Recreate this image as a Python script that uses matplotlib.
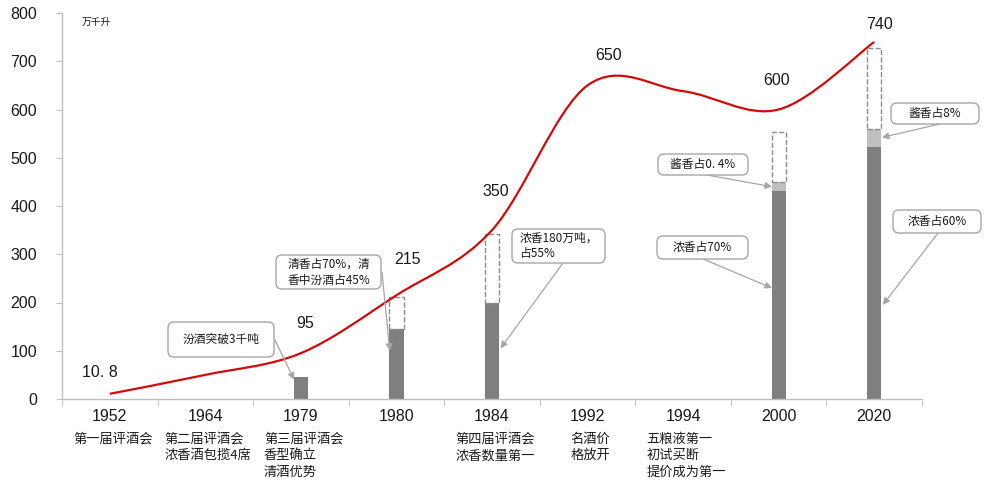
import numpy as np
import matplotlib
matplotlib.use('Agg')
import matplotlib.pyplot as plt
import matplotlib.transforms as mtransforms
from matplotlib.path import Path
from matplotlib.patches import PathPatch, FancyBboxPatch

plt.rcParams['font.family'] = ['Liberation Sans', 'Noto Sans CJK SC', 'DejaVu Sans']

# ---- data ----
years = ['1952', '1964', '1979', '1980', '1984', '1992', '1994', '2000', '2020']
events = ['第一届评酒会', '第二届评酒会\n浓香酒包揽4席', '第三届评酒会\n香型确立\n清酒优势', '',
          '第四届评酒会\n浓香数量第一', '名酒价\n格放开', '五粮液第一\n初试买断\n提价成为第一', '', '']
output = [10.8, 50, 95, 215, 350, 650, 638, 600, 740]
value_labels = ['10. 8', '', '95', '215', '350', '650', '', '600', '740']

bar_years = ['1979', '1980', '1984', '2000', '2020']
main_part = [45, 145, 200, 431, 522]
sauce_part = [0, 0, 0, 19, 37]
bar_total = [np.nan, 211, 342, 553, 727]

notes = ['汾酒突破3千吨', '清香占70%，清\n香中汾酒占45%', '浓香180万吨，\n占55%',
         '酱香占0. 4%', '浓香占70%', '酱香占8%', '浓香占60%']

W, H = 986, 482
fig = plt.figure(figsize=(W / 100, H / 100), dpi=100)
ax = fig.add_axes([62 / W, 1 - 399 / H, 860 / W, 386 / H])

x = np.arange(len(years))

# smoothed line (bezier through the points, like excel's smooth line)
pts = np.column_stack([x, output]).astype(float)
n = len(pts)
verts = [pts[0]]
codes = [Path.MOVETO]
for i in range(n - 1):
    p0 = pts[max(i - 1, 0)]
    p1 = pts[i]
    p2 = pts[i + 1]
    p3 = pts[min(i + 2, n - 1)]
    verts += [p1 + (p2 - p0) / 6, p2 - (p3 - p1) / 6, p2]
    codes += [Path.CURVE4] * 3
ax.add_patch(PathPatch(Path(verts, codes), fill=False, edgecolor='#d10a0a', lw=1.6, zorder=3))

# value labels
label_off = {'10. 8': (-10, 21), '95': (4, 30), '215': (11, 36), '350': (4, 39),
             '650': (21, 30), '600': (-2, 29), '740': (5, 17)}
for i, lab in enumerate(value_labels):
    if lab:
        ax.annotate(lab, (x[i], output[i]), xytext=label_off[lab], textcoords='offset pixels',
                    ha='center', va='center', fontsize=11.5, color='#1a1a1a')

# bars
bx = np.array([years.index(y) for y in bar_years])
main_part = np.array(main_part, float)
sauce_part = np.array(sauce_part, float)
bar_total = np.array(bar_total, float)
bw = 0.15
ax.bar(bx, main_part, width=bw, color='#7f7f7f', zorder=2)
ax.bar(bx, sauce_part, bottom=main_part, width=bw, color='#bfbfbf', zorder=2)
m = ~np.isnan(bar_total)
top = main_part + sauce_part
ax.bar(bx[m], bar_total[m] - top[m], bottom=top[m], width=bw, fill=False,
       edgecolor='#8c8c8c', linestyle='--', lw=1.0, zorder=2)

ax.set_xlim(-0.5, len(years) - 0.5)
ax.set_ylim(0, 800)
ax.set_yticks(range(0, 801, 100))
for s in ['top', 'right']:
    ax.spines[s].set_visible(False)
for s in ['left', 'bottom']:
    ax.spines[s].set_color('#bfbfbf')
    ax.spines[s].set_linewidth(1.0)
ax.tick_params(axis='y', length=4, color='#bfbfbf', labelsize=11.5, pad=14, labelcolor='#1a1a1a')
ax.set_xticks(x)
ax.set_xticklabels(years)
ax.set_xticks(np.arange(-0.5, len(years)), minor=True)
ax.tick_params(axis='x', which='major', length=0, labelsize=11.5, pad=7, labelcolor='#1a1a1a')
ax.tick_params(axis='x', which='minor', length=5, color='#bfbfbf', direction='out')

trans = mtransforms.blended_transform_factory(ax.transData, ax.transAxes)
for i, ev in enumerate(events):
    if ev:
        ax.text(x[i] + 0.03, -0.088, ev, transform=trans, ha='center', va='top', fontsize=9.5,
                multialignment='left', linespacing=1.33, color='#1a1a1a',
                family=['Noto Sans CJK SC', 'DejaVu Sans'])

fig.text(96 / W, 1 - 22 / H, '万千升', ha='center', va='center', fontsize=7,
         family=['Noto Sans CJK SC', 'DejaVu Sans'], color='#1a1a1a')

# callout boxes: pixel box (left, top, right, bottom), arrow start pixel, arrow tip (data)
boxes = [(168, 322, 274, 357), (276, 255, 381, 289), (512, 229, 605, 263),
         (658, 154, 748, 175), (657, 236, 748, 259), (891, 103, 979, 124), (893, 210, 981, 233)]
starts = [(275, 340), (382, 272), (563, 263), (707, 175), (703, 259), (940, 124), (938, 233)]
tips = [(1.93, 40), (2.93, 100), (4.09, 105), (6.93, 440), (6.93, 230), (8.08, 542), (8.09, 195)]

ident = mtransforms.IdentityTransform()
for note, (l, t, r, b), (sx, sy), tip in zip(notes, boxes, starts, tips):
    fig.patches.append(FancyBboxPatch((l, H - b), r - l, b - t,
                                      boxstyle='round,pad=0,rounding_size=6',
                                      transform=ident, facecolor='white',
                                      edgecolor='#a6a6a6', lw=1.0, zorder=5))
    fig.text((l + r) / 2 / W, 1 - (t + b) / 2 / H, note, ha='center', va='center',
             fontsize=8.5, multialignment='left', linespacing=1.3, color='#1a1a1a',
             family=['Noto Sans CJK SC', 'DejaVu Sans'], zorder=6)
    ax.annotate('', xy=tip, xycoords='data', xytext=(sx, H - sy), textcoords='figure pixels',
                arrowprops=dict(arrowstyle='-|>', color='#a6a6a6', lw=0.9,
                                shrinkA=0, shrinkB=0, mutation_scale=10), zorder=4)

fig.savefig('out.png', dpi=100)
